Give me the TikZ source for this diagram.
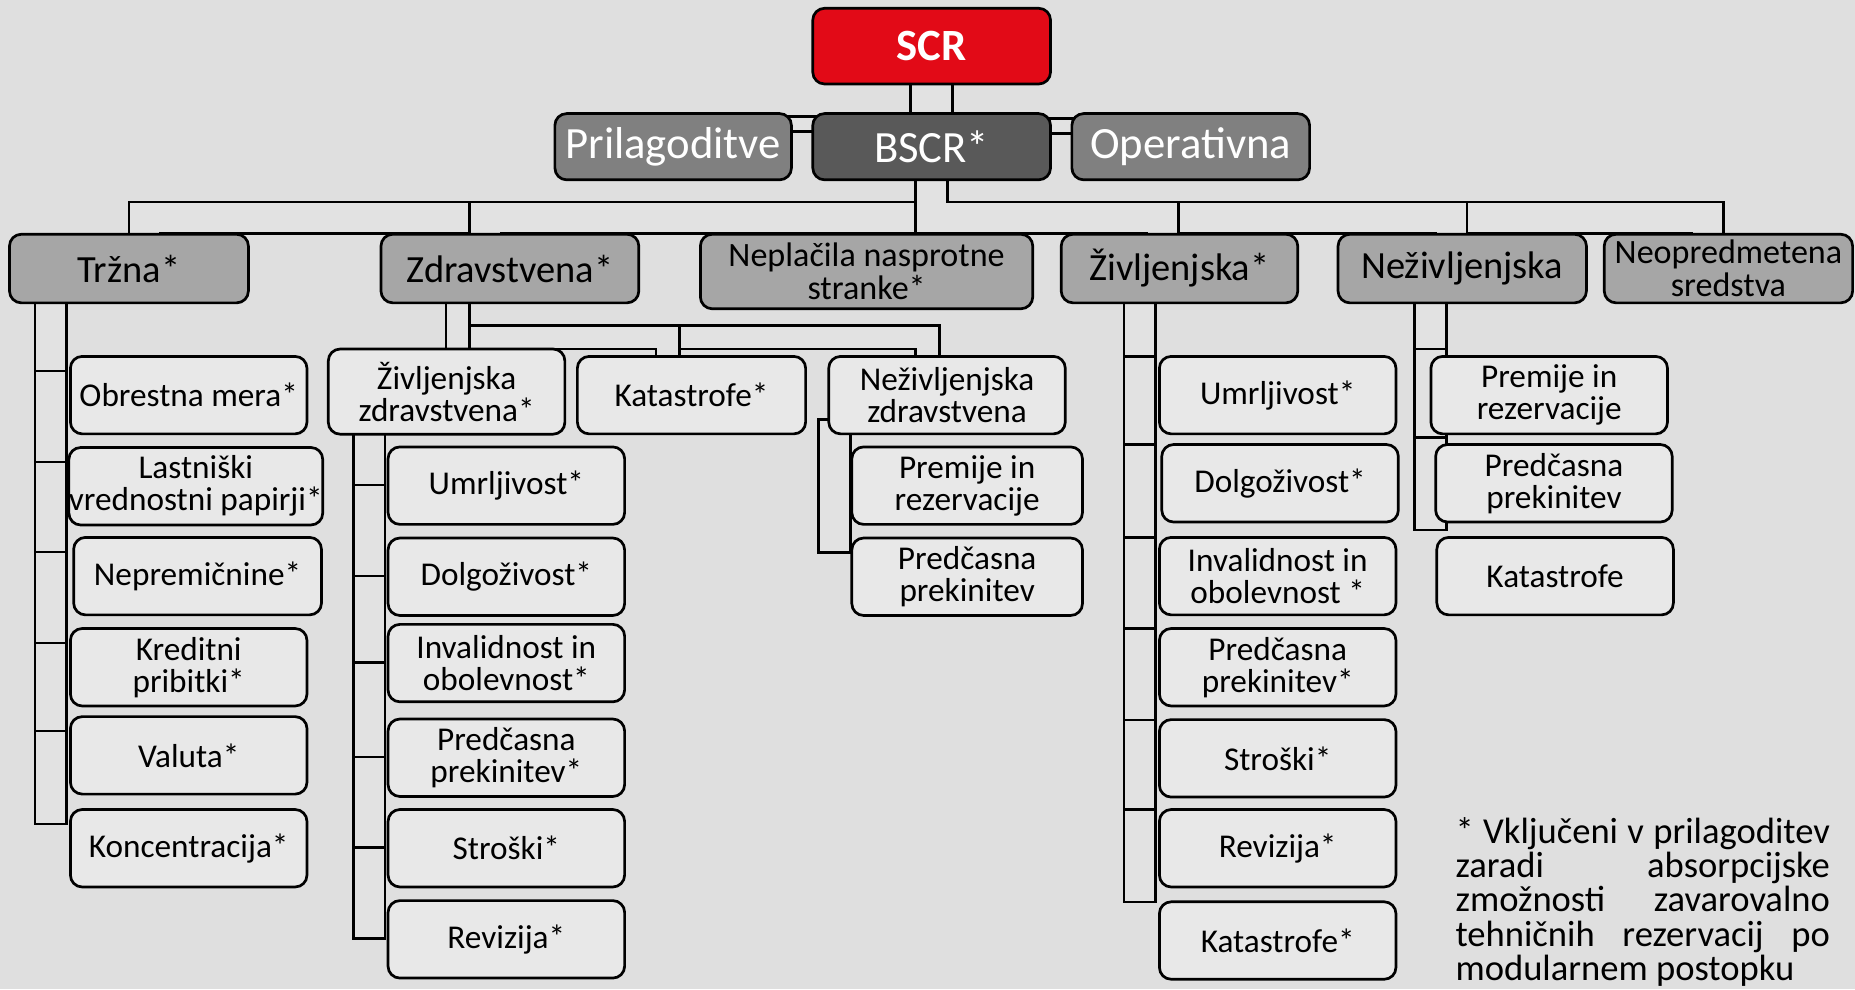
\documentclass[tikz,border=0pt]{standalone}
\usepackage{fontspec}
\setmainfont{Carlito}

\definecolor{bgcol}{HTML}{DFDFDF}
\definecolor{scrred}{HTML}{E20A17}
\definecolor{bscrgray}{HTML}{595959}
\definecolor{sidegray}{HTML}{808080}
\definecolor{catgray}{HTML}{A6A6A6}
\definecolor{leafgray}{HTML}{E8E8E8}
\definecolor{connfill}{HTML}{E2E2E2}

\pgfdeclarelayer{background}
\pgfsetlayers{background,main}
\lineskiplimit=-50pt

\begin{document}
\begin{tikzpicture}
  [x = 0.02cm, y = -0.02cm,
   box/.style = {draw, line width=1.3pt, rounded corners=0.2cm, align=center, inner sep=0pt},
   head/.style = {box, text=white, font=\fontsize{21.5}{22}\selectfont,
                  minimum width=4.02cm, minimum height=1.12cm},
   cat/.style = {box, fill=catgray, font=\fontsize{18.5}{18}\selectfont, minimum height=1.16cm},
   cattwo/.style = {cat, font=\fontsize{16.4}{15.9}\selectfont},
   leaf/.style = {box, fill=leafgray, font=\fontsize{16}{15.4}\selectfont,
                  minimum width=4cm, minimum height=1.31cm},
   conn/.style = {line width=1.3pt, double=connfill, double distance=0.49cm, line cap=rect},
   zconn/.style = {conn, double distance=0.35cm},
   note/.style = {align=left, inner sep=0pt, anchor=base west,
                  font=\fontsize{17.6}{16.47}\selectfont}]
  \useasboundingbox (0, 0) rectangle (1568, 836);

  % top
  \node[head, fill=scrred, font=\fontsize{21.5}{22}\selectfont\bfseries,
        minimum height=1.28cm] (scr) at (787.5, 39) {SCR};
  \node[head, fill=bscrgray] (bscr) at (787.5, 124) {BSCR*};
  \node[head, fill=sidegray, minimum width=4cm] (prilagoditve) at (569, 124) {Prilagoditve};
  \node[head, fill=sidegray] (operativna) at (1006.5, 124) {Operativna};

  % modules
  \node[cat, minimum width=4.04cm] (trzna) at (109, 227) {Tržna*};
  \node[cat, minimum width=4.36cm] (zdravstvena) at (431, 227) {Zdravstvena*};
  \node[cattwo, minimum width=5.62cm, minimum height=1.26cm] (neplacila) at (732.5, 229.5)
    {Neplačila nasprotne\\stranke*};
  \node[cat, minimum width=4cm] (zivljenjska) at (997, 227) {Življenjska*};
  \node[cat, minimum width=4.2cm] (nezivljenjska) at (1236, 227) {Neživljenjska};
  \node[cattwo, minimum width=4.2cm] (neopredmetena) at (1461, 227) {Neopredmetena\\sredstva};

  % trzna
  \node[leaf] (obrestna) at (159.5, 334) {Obrestna mera*};
  \node[leaf, minimum width=4.26cm] (lastniski) at (165.5, 411) {Lastniški\\vrednostni papirji*};
  \node[leaf, minimum width=4.19cm] (nepremicnine) at (167, 487) {Nepremičnine*};
  \node[leaf] (kreditni) at (159.5, 564) {Kreditni\\pribitki*};
  \node[leaf] (valuta) at (159.5, 638.5) {Valuta*};
  \node[leaf] (koncentracija) at (159.5, 717) {Koncentracija*};

  % zdravstvena
  \node[leaf, minimum height=1.44cm] (zivzdr) at (377.5, 331) {Življenjska\\zdravstvena*};
  \node[leaf, minimum width=3.86cm] (katz) at (584.5, 334) {Katastrofe*};
  \node[leaf] (nezivzdr) at (800.5, 334) {Neživljenjska\\zdravstvena};

  \node[leaf] (umrl1) at (428, 410.5) {Umrljivost*};
  \node[leaf] (dolg1) at (428, 487.5) {Dolgoživost*};
  \node[leaf] (inval1) at (428, 560.5) {Invalidnost in\\obolevnost*};
  \node[leaf] (predc1) at (428, 640.5) {Predčasna\\prekinitev*};
  \node[leaf] (stroski1) at (428, 717) {Stroški*};
  \node[leaf] (revizija1) at (428, 794) {Revizija*};

  \node[leaf, minimum width=3.9cm] (premije1) at (817.5, 410.5) {Premije in\\rezervacije};
  \node[leaf, minimum width=3.9cm] (predc2) at (817.5, 487.5) {Predčasna\\prekinitev};

  % zivljenjska
  \node[leaf] (umrl2) at (1080, 334) {Umrljivost*};
  \node[leaf] (dolg2) at (1082, 408.5) {Dolgoživost*};
  \node[leaf] (inval2) at (1080, 487) {Invalidnost in\\obolevnost *};
  \node[leaf] (predc3) at (1080, 564) {Predčasna\\prekinitev*};
  \node[leaf] (stroski2) at (1080, 641) {Stroški*};
  \node[leaf] (revizija2) at (1080, 717) {Revizija*};
  \node[leaf] (katastrofe2) at (1080, 795) {Katastrofe*};

  % nezivljenjska
  \node[leaf] (premije2) at (1309.5, 334) {Premije in\\rezervacije};
  \node[leaf] (predc4) at (1313.5, 408.5) {Predčasna\\prekinitev};
  \node[leaf] (katastrofe3) at (1314.5, 487) {Katastrofe};

  \node[note] (note) at (1230, 828.6)
    {\makebox[6.33cm][s]{* Vključeni v prilagoditev}\\
     \makebox[6.33cm][s]{zaradi absorpcijske}\\
     \makebox[6.33cm][s]{zmožnosti zavarovalno}\\
     \makebox[6.33cm][s]{tehničnih rezervacij po}\\
     modularnem postopku};

  \begin{pgfonlayer}{background}
    \fill[bgcol] (0, 0) rectangle (1568, 836);

    \draw[conn, double distance=0.666cm] (scr.south) -- (bscr.north);
    \draw[conn, double distance=0.206cm] ([yshift=0.38cm]bscr.west) -- ([yshift=0.38cm]prilagoditve.east);
    \draw[conn, double distance=0.206cm] ([yshift=0.35cm]bscr.east) -- ([yshift=0.35cm]operativna.west);

    % bus under BSCR
    \draw[conn] (bscr.south) -- (bscr.south |- neplacila.north);
    \draw[conn] (bscr.south) -- ++(0, 31) -| ([xshift=0.27cm]trzna.north);
    \draw[conn] (bscr.south) -- ++(0, 31) -| ([xshift=-0.35cm]neopredmetena.north);
    \draw[conn] (bscr.south) -- ++(0, 31) -| ([xshift=-0.41cm]zdravstvena.north);
    \draw[conn] (bscr.south) -- ++(0, 31) -| ([xshift=-0.19cm]nezivljenjska.north);
    \draw[conn] (bscr.south) -- ++(0, 31) -| ([xshift=-0.29cm]zivljenjska.north);

    % trzna bar
    \coordinate (trbar) at (43, 0);
    \draw[conn] (trzna.south -| trbar) -- (koncentracija.north -| trbar);
    \draw[conn] (trzna.south -| trbar) -- (valuta.north -| trbar);
    \draw[conn] (trzna.south -| trbar) -- (kreditni.north -| trbar);
    \draw[conn] (trzna.south -| trbar) -- (nepremicnine.north -| trbar);
    \draw[conn] (trzna.south -| trbar) -- (lastniski.north -| trbar);
    \draw[conn] (trzna.south -| trbar) -- (obrestna.north -| trbar);

    % zdravstvena
    \coordinate (zdrdrop) at (387, 0);
    \draw[zconn] (zdravstvena.south -| zdrdrop) -- ++(0, 28) -| ([xshift=-0.33cm]nezivzdr.north);
    \draw[zconn] (zdravstvena.south -| zdrdrop) -- ++(0, 28) -| ([xshift=-0.4cm]katz.north);
    \draw[zconn] (zdravstvena.south -| zdrdrop) -- (zivzdr.north -| zdrdrop);

    \coordinate (zzbar) at (312, 0);
    \draw[conn] (zivzdr.south -| zzbar) -- ([yshift=0.28cm]revizija1.west -| zzbar);
    \draw[conn] (zivzdr.south -| zzbar) -- ([yshift=0.28cm]stroski1.west -| zzbar);
    \draw[conn] (zivzdr.south -| zzbar) -- ([yshift=0.28cm]predc1.west -| zzbar);
    \draw[conn] (zivzdr.south -| zzbar) -- ([yshift=0.28cm]inval1.west -| zzbar);
    \draw[conn] (zivzdr.south -| zzbar) -- ([yshift=0.28cm]dolg1.west -| zzbar);
    \draw[conn] (zivzdr.south -| zzbar) -- ([yshift=0.28cm]umrl1.west -| zzbar);

    \coordinate (nzbar) at (705.5, 0);
    \draw[conn] (nezivzdr.south -| nzbar) -- (premije1.north -| nzbar);
    \draw[conn] (nezivzdr.south -| nzbar) -- (predc2.north -| nzbar);

    % zivljenjska bar
    \coordinate (zvbar) at (963.5, 0);
    \draw[conn] (zivljenjska.south -| zvbar) -- ([yshift=0.24cm]katastrofe2.north -| zvbar);
    \draw[conn] (zivljenjska.south -| zvbar) -- ([yshift=0.24cm]revizija2.north -| zvbar);
    \draw[conn] (zivljenjska.south -| zvbar) -- ([yshift=0.24cm]stroski2.north -| zvbar);
    \draw[conn] (zivljenjska.south -| zvbar) -- ([yshift=0.24cm]predc3.north -| zvbar);
    \draw[conn] (zivljenjska.south -| zvbar) -- ([yshift=0.24cm]inval2.north -| zvbar);
    \draw[conn] (zivljenjska.south -| zvbar) -- ([yshift=0.24cm]dolg2.north -| zvbar);
    \draw[conn] (zivljenjska.south -| zvbar) -- ([yshift=0.24cm]umrl2.north -| zvbar);

    % nezivljenjska bar
    \coordinate (nvbar) at (1209, 0);
    \draw[conn] (nezivljenjska.south -| nvbar) -- ([yshift=0.37cm]katastrofe3.north -| nvbar);
    \draw[conn] (nezivljenjska.south -| nvbar) -- ([yshift=0.37cm]predc4.north -| nvbar);
    \draw[conn] (nezivljenjska.south -| nvbar) -- ([yshift=0.37cm]premije2.north -| nvbar);
  \end{pgfonlayer}
\end{tikzpicture}
\end{document}
